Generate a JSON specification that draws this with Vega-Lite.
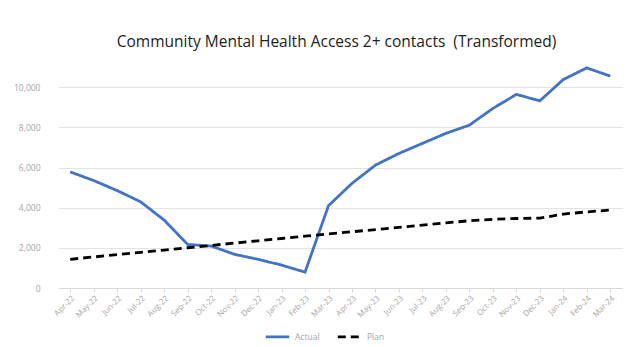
{
  "$schema": "https://vega.github.io/schema/vega-lite/v6.json",
  "width": 581,
  "height": 241,
  "autosize": "none",
  "padding": {"left": 46, "top": 47, "right": 0, "bottom": 59},
  "background": "white",
  "title": {
    "text": "Community Mental Health Access 2+ contacts \u00a0(Transformed)",
    "font": "Open Sans",
    "fontSize": 15.5,
    "fontWeight": "normal",
    "color": "#222222",
    "anchor": "middle",
    "offset": -3
  },
  "config": {
    "view": {"stroke": null},
    "font": "Open Sans"
  },
  "data": {
    "values": [
      {"month": "Apr-22", "series": "Actual", "value": 5780},
      {"month": "May-22", "series": "Actual", "value": 5350},
      {"month": "Jun-22", "series": "Actual", "value": 4850},
      {"month": "Jul-22", "series": "Actual", "value": 4290},
      {"month": "Aug-22", "series": "Actual", "value": 3380},
      {"month": "Sep-22", "series": "Actual", "value": 2170},
      {"month": "Oct-22", "series": "Actual", "value": 2090},
      {"month": "Nov-22", "series": "Actual", "value": 1675},
      {"month": "Dec-22", "series": "Actual", "value": 1430},
      {"month": "Jan-23", "series": "Actual", "value": 1140},
      {"month": "Feb-23", "series": "Actual", "value": 790},
      {"month": "Mar-23", "series": "Actual", "value": 4100},
      {"month": "Apr-23", "series": "Actual", "value": 5210},
      {"month": "May-23", "series": "Actual", "value": 6120},
      {"month": "Jun-23", "series": "Actual", "value": 6700},
      {"month": "Jul-23", "series": "Actual", "value": 7200},
      {"month": "Aug-23", "series": "Actual", "value": 7700},
      {"month": "Sep-23", "series": "Actual", "value": 8110},
      {"month": "Oct-23", "series": "Actual", "value": 8940},
      {"month": "Nov-23", "series": "Actual", "value": 9640},
      {"month": "Dec-23", "series": "Actual", "value": 9320},
      {"month": "Jan-24", "series": "Actual", "value": 10380},
      {"month": "Feb-24", "series": "Actual", "value": 10960},
      {"month": "Mar-24", "series": "Actual", "value": 10550},
      {"month": "Apr-22", "series": "Plan", "value": 1430},
      {"month": "May-22", "series": "Plan", "value": 1545},
      {"month": "Jun-22", "series": "Plan", "value": 1660},
      {"month": "Jul-22", "series": "Plan", "value": 1775},
      {"month": "Aug-22", "series": "Plan", "value": 1890},
      {"month": "Sep-22", "series": "Plan", "value": 2005},
      {"month": "Oct-22", "series": "Plan", "value": 2120},
      {"month": "Nov-22", "series": "Plan", "value": 2235},
      {"month": "Dec-22", "series": "Plan", "value": 2350},
      {"month": "Jan-23", "series": "Plan", "value": 2465},
      {"month": "Feb-23", "series": "Plan", "value": 2580},
      {"month": "Mar-23", "series": "Plan", "value": 2695},
      {"month": "Apr-23", "series": "Plan", "value": 2800},
      {"month": "May-23", "series": "Plan", "value": 2910},
      {"month": "Jun-23", "series": "Plan", "value": 3020},
      {"month": "Jul-23", "series": "Plan", "value": 3130},
      {"month": "Aug-23", "series": "Plan", "value": 3240},
      {"month": "Sep-23", "series": "Plan", "value": 3350},
      {"month": "Oct-23", "series": "Plan", "value": 3420},
      {"month": "Nov-23", "series": "Plan", "value": 3460},
      {"month": "Dec-23", "series": "Plan", "value": 3480},
      {"month": "Jan-24", "series": "Plan", "value": 3680},
      {"month": "Feb-24", "series": "Plan", "value": 3790},
      {"month": "Mar-24", "series": "Plan", "value": 3880}
    ]
  },
  "mark": {"type": "line", "strokeWidth": 2.8},
  "encoding": {
    "x": {
      "field": "month",
      "type": "ordinal",
      "sort": null,
      "scale": {"type": "point", "range": [12.5, 576]},
      "axis": {
        "title": null,
        "labelAngle": -45,
        "labelFontSize": 8,
        "labelColor": "#a6a6a6",
        "domainColor": "#d9d9d9",
        "tickColor": "#d9d9d9",
        "tickSize": 4,
        "labelPadding": 2,
        "grid": false
      }
    },
    "y": {
      "field": "value",
      "type": "quantitative",
      "scale": {"domain": [0, 12000]},
      "axis": {
        "title": null,
        "values": [0, 2000, 4000, 6000, 8000, 10000],
        "format": ",d",
        "labelFontSize": 8.5,
        "labelColor": "#a6a6a6",
        "domain": false,
        "ticks": false,
        "labelPadding": 6,
        "gridColor": "#e3e3e3",
        "gridWidth": 1
      }
    },
    "color": {
      "field": "series",
      "type": "nominal",
      "scale": {"domain": ["Actual", "Plan"], "range": ["#4472C4", "#000000"]},
      "legend": {
        "title": null,
        "orient": "none",
        "legendX": 218,
        "legendY": 276,
        "direction": "horizontal",
        "symbolType": "stroke",
        "symbolSize": 550,
        "symbolStrokeWidth": 2.8,
        "labelFontSize": 8.5,
        "labelColor": "#a6a6a6",
        "columnPadding": 12
      }
    },
    "strokeDash": {
      "field": "series",
      "type": "nominal",
      "scale": {"domain": ["Actual", "Plan"], "range": [[1, 0], [8, 5]]},
      "legend": null
    }
  }
}
